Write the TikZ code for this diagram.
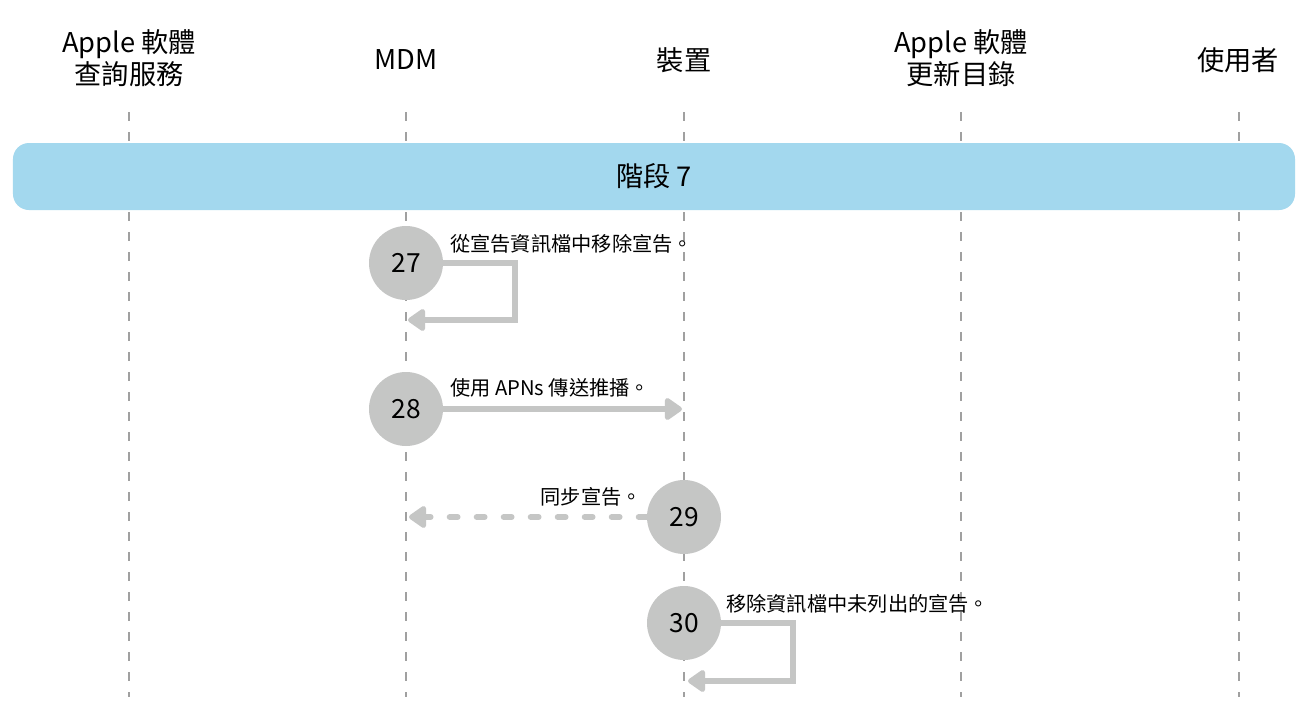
\documentclass[tikz,border=0pt]{standalone}
\usepackage{fontspec}
\setmainfont{Noto Sans CJK TC}
\usepackage{tikz}
\usetikzlibrary{arrows.meta}
\definecolor{phaseblue}{HTML}{A3D8EE}
\definecolor{stepgray}{HTML}{C5C6C5}
\definecolor{lifegray}{HTML}{A0A0A0}

\begin{document}
\begin{tikzpicture}[x=0.2mm,y=-0.2mm,line cap=butt,line join=miter,
  actor/.style={align=center,font=\fontsize{15.5}{18}\selectfont,inner sep=0pt},
  life/.style={lifegray,line width=0.6pt,dash pattern=on 0.18cm off 0.22cm},
  phase/.style={fill=phaseblue,rounded corners=0.32cm,minimum width=25.64cm,
    minimum height=1.34cm,font=\fontsize{15.5}{18}\selectfont},
  num/.style={circle,fill=stepgray,minimum size=1.48cm,inner sep=0pt,
    font=\fontsize{15}{18}\selectfont},
  arr/.style={stepgray,line width=3.3pt,-{Triangle[round,length=3.8mm,width=5mm]}},
  darr/.style={arr,line cap=round,dash pattern=on 0.16cm off 0.38cm},
  lab/.style={font=\fontsize{11.5}{14}\selectfont,inner sep=0pt}]
\path[use as bounding box] (0,0) rectangle (1303,705);
\fill[white] (0,0) rectangle (1303,705);
% participants
\node[actor] (h1) at (129,58) {Apple 軟體\\查詢服務};
\node[actor] (h2) at (406,60) {MDM};
\node[actor] (h3) at (684,60) {裝置};
\node[actor] (h4) at (961,58) {Apple 軟體\\更新目錄};
\node[actor] (h5) at (1238,60) {使用者};
\foreach \x in {129,406,684,961,1239}
  \draw[life] (\x,112) -- (\x,697);
\node[phase] (ph) at (654,176.5) {階段 7};
% steps
\node[num] (s27) at (406,263) {27};
\node[num] (s28) at (406,409) {28};
\node[num] (s29) at (684,517) {29};
\node[num] (s30) at (684,623) {30};
\coordinate (k27) at (515,320);
\coordinate (e27) at (408,320);
\coordinate (e28) at (682,409);
\coordinate (e29) at (409,517);
\coordinate (k30) at (793,681);
\coordinate (e30) at (688,681);
\draw[arr] (s27.east) -| (k27) -- (e27);
\draw[arr] (s28.east) -- (e28);
\draw[darr] (s29.west) -- (e29);
\draw[arr] (s30.east) -| (k30) -- (e30);
\node[lab,anchor=west] (t27) at (450,244) {從宣告資訊檔中移除宣告。};
\node[lab,anchor=west] (t28) at (450,388) {使用 APNs 傳送推播。};
\node[lab,anchor=east] (t29) at (642,497) {同步宣告。};
\node[lab,anchor=west] (t30) at (726,604) {移除資訊檔中未列出的宣告。};
\end{tikzpicture}
\end{document}
